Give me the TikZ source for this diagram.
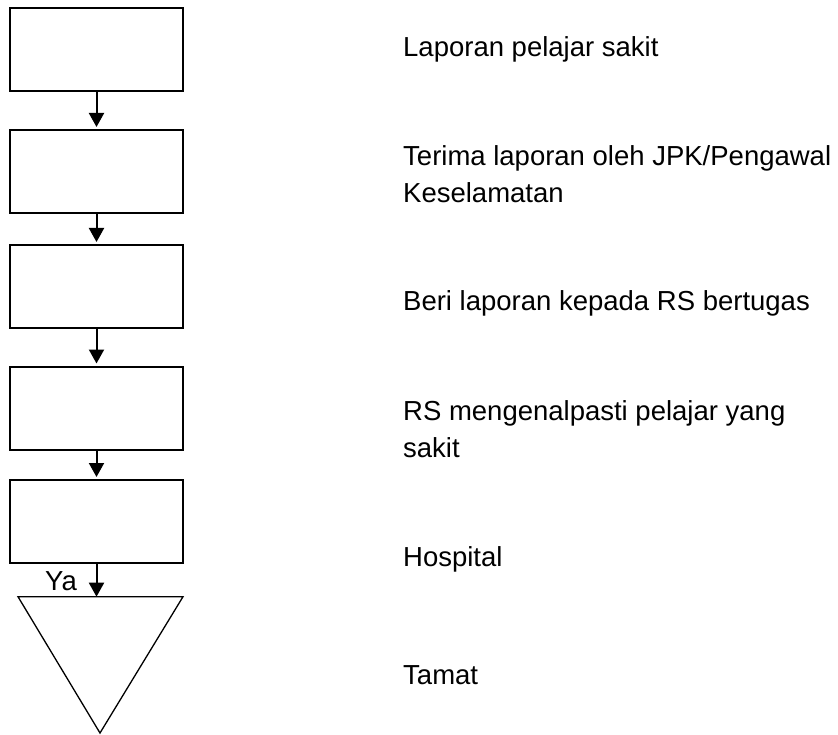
\documentclass[tikz,border=0pt]{standalone}
\usepackage{fontspec}
\setmainfont{Liberation Sans}
\usetikzlibrary{arrows.meta}
\begin{document}
\begin{tikzpicture}[x=1pt,y=-1pt,
    box/.style={draw,line width=2pt,minimum width=173pt,minimum height=83pt,inner sep=0pt},
    arr/.style={line width=2pt,shorten >=2pt,-{Triangle[width=15pt,length=14pt]}},
    txt/.style={anchor=base west,inner sep=0pt,align=left,font=\fontsize{27.5}{37}\selectfont}]
    \useasboundingbox (0,0) rectangle (838,735);
    % boxes
    \node[box] (b1) at (96.5,50) {};
    \node[box] (b2) at (96.5,171.5) {};
    \node[box] (b3) at (96.5,286.5) {};
    \node[box] (b4) at (96.5,408) {};
    \node[box] (b5) at (96.5,521.5) {};
    % end
    \coordinate (tri) at (100,596.7);
    \draw[line width=1.3pt] (18,596.7) -- (183,596.7) -- (100,733) -- cycle;
    % arrows
    \draw[arr] (b1.south) -- (b2.north);
    \draw[arr] (b2.south) -- (b3.north);
    \draw[arr] (b3.south) -- (b4.north);
    \draw[arr] (b4.south) -- (b5.north);
    \draw[arr,shorten >=0pt] (b5.south) -- (b5.south |- tri);
    \node[txt] (ya) at (45,590) {Ya};
    % labels (base = last line)
    \node[txt] (t1) at (403,57) {Laporan pelajar sakit};
    \node[txt] (t2) at (403,203) {Terima laporan oleh JPK/Pengawal\\Keselamatan};
    \node[txt] (t3) at (403,311) {Beri laporan kepada RS bertugas};
    \node[txt] (t4) at (403,457) {RS mengenalpasti pelajar yang\\sakit};
    \node[txt] (t5) at (403,566) {Hospital};
    \node[txt] (t6) at (403,684) {Tamat};
\end{tikzpicture}
\end{document}
